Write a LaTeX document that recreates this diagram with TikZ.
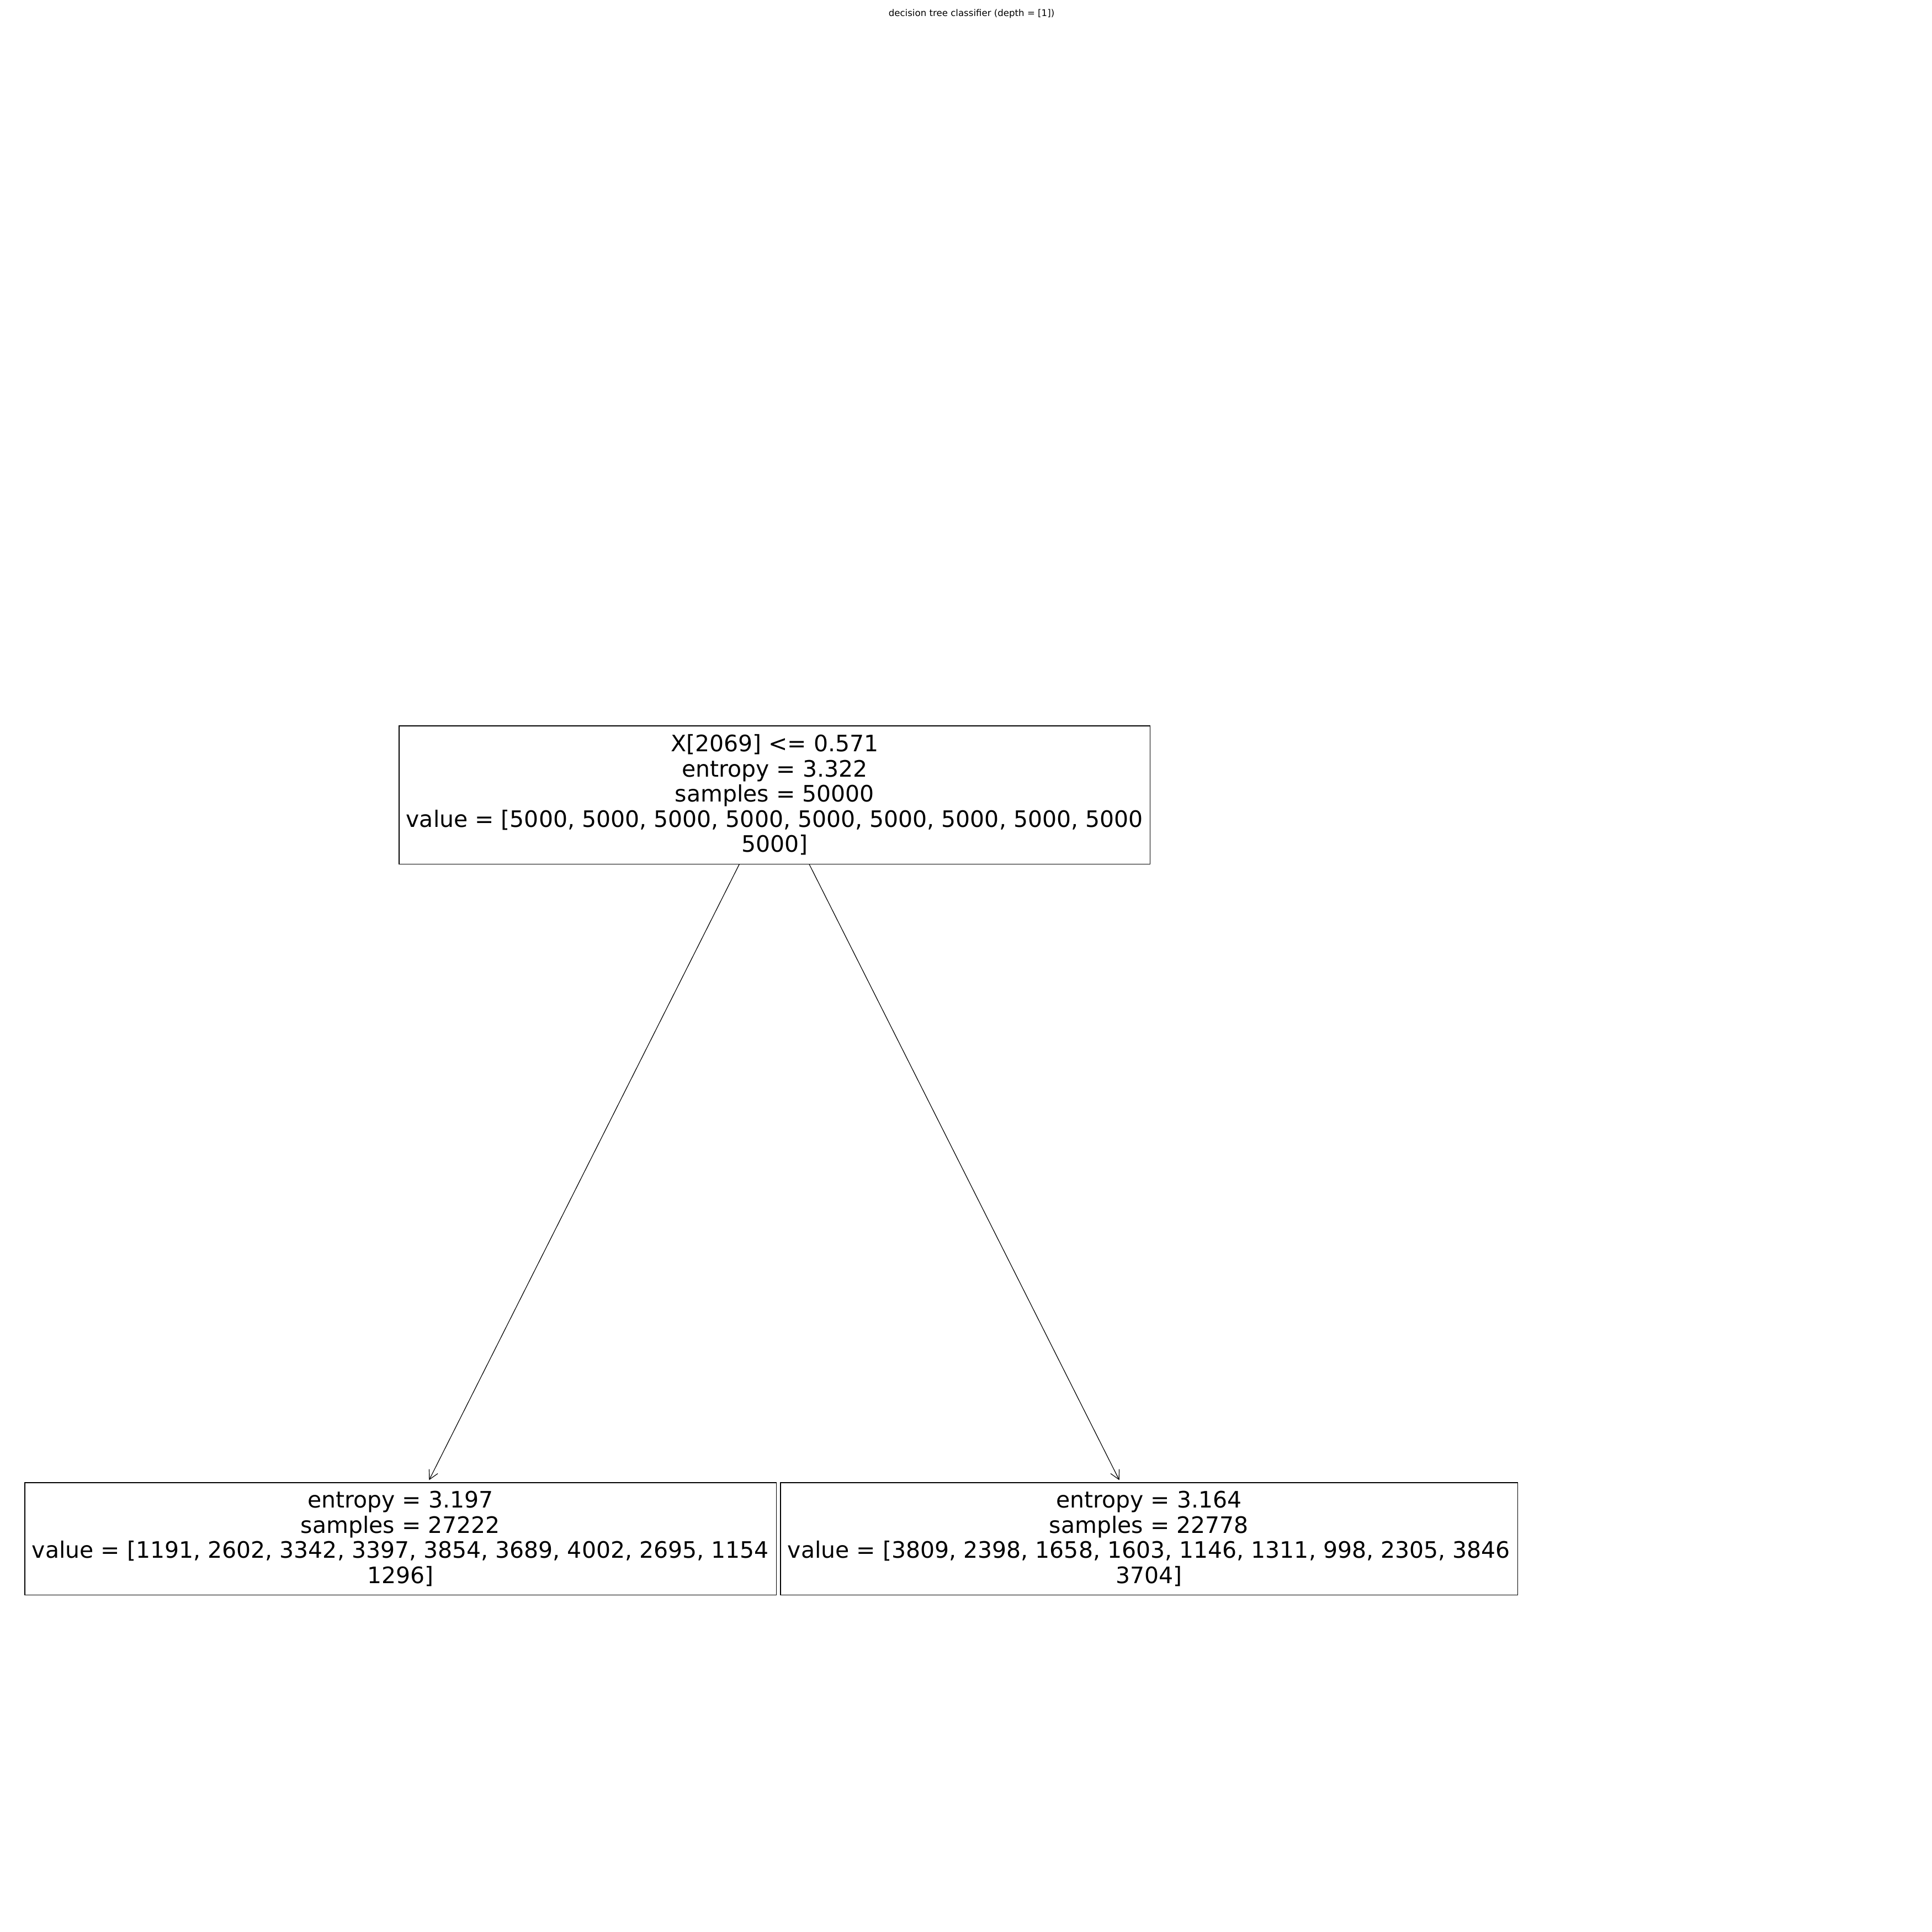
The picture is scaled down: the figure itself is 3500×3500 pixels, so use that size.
\documentclass[tikz,border=0pt]{standalone}
\usepackage{fontspec}
\setmainfont{DejaVu Sans}
\usetikzlibrary{arrows.meta,calc}
\begin{document}
\begin{tikzpicture}[x=0.01in,y=-0.01in,
  treebox/.style={draw=black, line width=0.85pt, rectangle, align=center, inner sep=0pt,
    font=\fontsize{29.6pt}{32.9pt}\selectfont},
  edge/.style={draw=black, line width=0.85pt, -{Straight Barb[length=11.9pt,width=12.6pt]}},
  titlestyle/.style={font=\fontsize{12pt}{14.4pt}\selectfont, anchor=base, inner sep=0pt}]
\useasboundingbox (0,0) rectangle (3500,3500);
\node[titlestyle] (title) at (1760,29.3) {decision tree classifier (depth = [1])};
\node[treebox, minimum width=13.60in, minimum height=2.50in] (root) at (1403.3,1440)
  {X[2069] <= 0.571\\entropy = 3.322\\samples = 50000\\value = [5000, 5000, 5000, 5000, 5000, 5000, 5000, 5000, 5000\\5000]};
\node[treebox, minimum width=13.604in, minimum height=2.03in] (left) at (725.5,2787.5)
  {entropy = 3.197\\samples = 27222\\value = [1191, 2602, 3342, 3397, 3854, 3689, 4002, 2695, 1154\\1296]};
\node[treebox, minimum width=13.344in, minimum height=2.03in] (right) at (2081.5,2787.5)
  {entropy = 3.164\\samples = 22778\\value = [3809, 2398, 1658, 1603, 1146, 1311, 998, 2305, 3846\\3704]};
\draw[edge] ($(root.south)+(-64,0)$) -- ($(left.north)+(51.8,-4)$);
\draw[edge] ($(root.south)+(62.7,0)$) -- ($(right.north)+(-53.8,-4)$);
\end{tikzpicture}
\end{document}
